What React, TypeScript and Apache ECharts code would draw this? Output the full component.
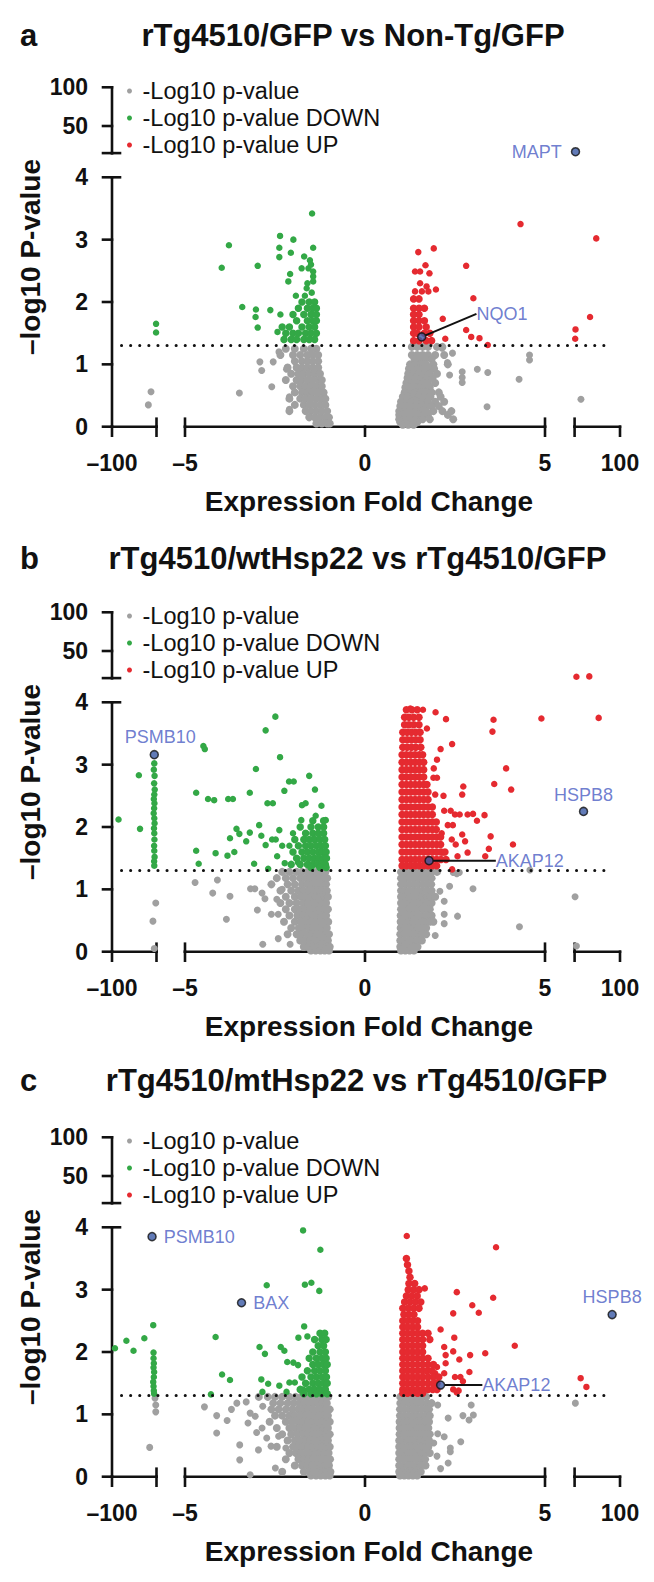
import React, { useEffect, useRef } from "react";
import * as echarts from "echarts";

// ---------------- text ----------------
const panelTitles = [
  "rTg4510/GFP vs Non-Tg/GFP",
  "rTg4510/wtHsp22 vs rTg4510/GFP",
  "rTg4510/mtHsp22 vs rTg4510/GFP",
];
const panelLetters = ["a", "b", "c"];
const legendNames = ["-Log10 p-value", "-Log10 p-value DOWN", "-Log10 p-value UP"];
const xTitle = "Expression Fold Change";
const yTitle = "\u2013log10 P-value";

// ---------------- axes (broken) ----------------
const xSegRanges = [[-100, -70], [-5, 5], [70, 100]];
const xSegTicks = [[-100, -70], [-5, 0, 5], [70, 100]];
const xSegLabels = [[-100], [-5, 0, 5], [100]];
const xSegCaps = [[-70], [-5, 5], [70]];
const yLowRange = [0, 4];
const yLowTicks = [0, 1, 2, 3, 4];
const yHighRange = [15, 100];
const yHighTicks = [15, 50, 100];
const yHighLabels = [50, 100];
const pThreshold = 1.3;

// ---------------- panel a data ----------------
const aGrayPts = [
  [-73.7, 0.56], [-75.5, 0.35],
  [-3.49, 0.54], [-2.92, 1.04], [-2.55, 1.04], [-2.87, 0.9], [-2.59, 0.64], [-2.39, 1.2], [-2.18, 0.92], [-2.1, 0.28], [-2.1, 0.48],
  [4.28, 0.76], [4.57, 1.15], [4.57, 1.07], [3.39, 0.32], [3.12, 0.92], [3.41, 0.87], [2.7, 0.88], [2.7, 0.79], [2.7, 0.71],
  [2.35, 0.83], [2.29, 1.03], [2.43, 1.18], [2.14, 1.26], [74.2, 0.44],
];
const aGrayRows = [
  [1.25, -2.2, -1.95, -1.7, -1.5, -1.35],
  [1.15, -2.35, -2.0, -1.8, -1.6, -1.45, -1.3],
  [1.05, -1.95, -1.75, -1.6, -1.45, -1.3],
  [0.95, -2.15, -1.9, -1.75, -1.6, -1.45, -1.3],
  [0.85, -2.05, -1.85, -1.7, -1.55, -1.4, -1.25],
  [0.75, -2.2, -1.9, -1.75, -1.6, -1.45, -1.3, -1.2],
  [0.65, -2.0, -1.8, -1.65, -1.5, -1.35, -1.2],
  [0.55, -1.95, -1.75, -1.6, -1.45, -1.3, -1.15],
  [0.45, -2.1, -1.8, -1.65, -1.5, -1.35, -1.2, -1.1],
  [0.35, -1.95, -1.7, -1.55, -1.4, -1.25, -1.1],
  [0.25, -2.1, -1.65, -1.5, -1.35, -1.2, -1.05],
  [0.15, -1.55, -1.4, -1.25, -1.1, -1.0],
  [0.05, -1.35, -1.2, -1.05, -0.98],
  [1.28, 1.3, 1.45, 1.6, 1.75, 2.0, 2.15],
  [1.15, 1.3, 1.45, 1.6, 1.75, 1.95, 2.2],
  [1.08, 1.38, 1.52, 1.68, 1.85],
  [1.0, 1.25, 1.4, 1.55, 1.7, 1.9, 2.3],
  [0.93, 1.22, 1.32, 1.48, 1.62, 1.78, 1.92],
  [0.85, 1.2, 1.35, 1.5, 1.65, 1.8, 2.0],
  [0.78, 1.18, 1.28, 1.42, 1.58, 1.72, 1.88],
  [0.7, 1.15, 1.3, 1.45, 1.6, 1.75, 1.95],
  [0.63, 1.12, 1.22, 1.38, 1.52, 1.68, 1.8],
  [0.55, 1.1, 1.25, 1.4, 1.55, 1.7, 1.85, 2.05],
  [0.48, 1.05, 1.2, 1.35, 1.5, 1.65, 1.82, 2.1],
  [0.4, 1.0, 1.15, 1.3, 1.45, 1.6, 1.75, 1.95, 2.2],
  [0.33, 0.98, 1.12, 1.28, 1.42, 1.58, 1.72, 1.85, 2.05],
  [0.25, 0.95, 1.1, 1.25, 1.4, 1.55, 1.7, 1.9, 2.15, 2.4],
  [0.19, 0.95, 1.05, 1.18, 1.32, 1.48, 1.65, 1.75, 2.3],
  [0.12, 0.95, 1.1, 1.25, 1.4, 1.6, 1.8, 2.45],
  [0.07, 0.98, 1.12, 1.28, 1.45],
  [0.03, 1.05, 1.2, 1.35],
];
const aGreenPts = [
  [-70.3, 1.65], [-70.3, 1.51],
  [-3.78, 2.91], [-3.98, 2.55], [-2.98, 2.58], [-3.41, 1.92], [-3.03, 1.88], [-3.04, 1.76], [-2.98, 1.59], [-2.63, 1.87],
  [-2.35, 1.8], [-2.43, 1.52], [-2.36, 3.06], [-1.99, 3.0], [-2.38, 2.87], [-2.38, 2.72], [-2.06, 2.79], [-1.44, 2.87],
  [-1.47, 3.42], [-1.69, 2.73], [-2.08, 2.45], [-2.13, 2.33], [-1.92, 2.1], [-1.76, 2.54], [-1.53, 2.67], [-1.44, 2.41],
  [-1.57, 2.54], [-1.44, 2.49], [-1.44, 2.33], [-1.48, 2.15], [-1.67, 2.1], [-1.6, 2.3], [-1.5, 2.6], [-1.62, 2.22],
];
const aGreenRows = [
  [2.0, -1.75, -1.55, -1.4],
  [1.9, -1.85, -1.6, -1.45, -1.35],
  [1.8, -2.0, -1.7, -1.5, -1.35],
  [1.7, -1.9, -1.6, -1.45, -1.35],
  [1.6, -2.3, -2.1, -1.75, -1.55, -1.4],
  [1.5, -2.2, -2.0, -1.85, -1.65, -1.5, -1.35],
  [1.4, -2.25, -2.05, -1.9, -1.7, -1.55, -1.4],
];
const aRedPts = [
  [1.48, 2.8], [1.91, 2.86], [1.68, 2.59], [1.39, 2.49], [1.53, 2.49], [1.79, 2.46], [1.53, 2.3], [1.71, 2.25], [1.39, 2.17],
  [1.58, 2.17], [1.76, 2.17], [1.97, 2.2], [2.16, 1.73], [2.81, 2.58], [3.01, 2.06], [2.81, 1.55], [2.95, 1.44], [3.18, 1.42],
  [3.41, 1.31], [2.23, 1.41], [4.32, 3.25], [84.3, 3.02], [80.2, 1.76], [70.6, 1.56], [70.4, 1.41],
];
const aRedRows = [
  [2.05, 1.35, 1.5],
  [1.9, 1.35, 1.5, 1.65],
  [1.8, 1.35, 1.5],
  [1.7, 1.35, 1.5, 1.65],
  [1.6, 1.35, 1.5, 1.7],
  [1.5, 1.35, 1.45, 1.65, 1.8],
  [1.38, 1.35, 1.5, 1.7, 1.85],
];
const aHighlights = [[70.6, 16.8, "MAPT"], [1.575, 1.44, "NQO1"]];

// ---------------- panel b data ----------------
const bGrayPts = [
  [-70.5, 0.78], [-72.4, 0.49], [-71.5, 0.05],
  [-4.72, 1.11], [-4.1, 1.15], [-4.23, 0.94], [-3.75, 0.89], [-3.85, 0.52], [-2.99, 0.67], [-3.18, 1.01], [-3.06, 1.01],
  [-2.86, 0.94], [-2.78, 0.85], [-2.84, 0.12], [-2.41, 0.21], [-2.08, 0.12], [-2.41, 0.6], [-2.45, 0.84], [-2.3, 1.0], [-2.6, 0.6],
  [4.29, 0.4], [4.58, 1.31], [3.0, 1.01], [2.57, 0.57], [2.45, 1.27], [2.55, 1.25], [2.62, 1.27], [2.2, 0.81], [2.2, 0.6],
  [2.2, 0.45], [1.95, 0.26], [2.35, 1.05], [2.08, 0.97], [70.3, 0.88], [71.2, 0.09],
];
const bGrayRows = [
  [1.28, -2.3, -2.1, -1.9, -1.75, -1.6, -1.47, -1.34, -1.21, -1.1],
  [1.18, -2.45, -2.2, -2.0, -1.8, -1.65, -1.52, -1.39, -1.26, -1.14, -1.05],
  [1.08, -2.6, -2.15, -1.95, -1.75, -1.6, -1.47, -1.34, -1.21, -1.08],
  [0.98, -2.35, -2.05, -1.85, -1.7, -1.56, -1.43, -1.3, -1.18, -1.06],
  [0.88, -2.2, -1.95, -1.78, -1.64, -1.5, -1.37, -1.24, -1.12, -1.03],
  [0.78, -2.35, -2.1, -1.9, -1.72, -1.58, -1.45, -1.32, -1.2, -1.08],
  [0.68, -2.2, -1.95, -1.8, -1.66, -1.52, -1.39, -1.26, -1.14, -1.03],
  [0.58, -2.1, -1.88, -1.72, -1.58, -1.45, -1.32, -1.2, -1.08],
  [0.48, -2.25, -1.95, -1.78, -1.64, -1.5, -1.37, -1.24, -1.12, -1.02],
  [0.38, -2.05, -1.84, -1.7, -1.56, -1.43, -1.3, -1.18, -1.06],
  [0.28, -2.15, -1.9, -1.75, -1.6, -1.47, -1.34, -1.22, -1.1, -1.0],
  [0.18, -1.8, -1.65, -1.52, -1.39, -1.26, -1.14, -1.03],
  [0.08, -1.7, -1.57, -1.44, -1.31, -1.18, -1.06, -0.98],
  [0.02, -1.5, -1.37, -1.24, -1.12, -1.0],
  [1.28, 1.0, 1.12, 1.24, 1.36, 1.48, 1.6, 1.72, 1.85, 2.0],
  [1.18, 1.0, 1.12, 1.24, 1.36, 1.48, 1.6, 1.72, 1.85],
  [1.08, 1.0, 1.12, 1.24, 1.36, 1.48, 1.6, 1.72, 1.84],
  [0.98, 1.0, 1.12, 1.24, 1.36, 1.48, 1.6, 1.72, 1.85],
  [0.88, 1.0, 1.12, 1.24, 1.36, 1.48, 1.6, 1.72, 1.82, 1.95],
  [0.78, 1.0, 1.12, 1.24, 1.36, 1.48, 1.6, 1.72, 1.85],
  [0.68, 1.0, 1.12, 1.24, 1.36, 1.48, 1.6, 1.72, 1.8],
  [0.58, 0.99, 1.11, 1.23, 1.35, 1.47, 1.59, 1.71, 1.85],
  [0.48, 0.99, 1.11, 1.23, 1.35, 1.47, 1.59, 1.71, 1.8, 1.9],
  [0.38, 0.99, 1.11, 1.23, 1.35, 1.47, 1.59, 1.7],
  [0.28, 0.98, 1.1, 1.22, 1.34, 1.46, 1.58, 1.7],
  [0.18, 0.98, 1.1, 1.22, 1.34, 1.46, 1.58],
  [0.08, 0.98, 1.1, 1.22, 1.34, 1.46],
  [0.02, 1.0, 1.12, 1.24, 1.36],
];
const bGreenPts = [
  [-81.9, 2.83], [-95.6, 2.12], [-81.1, 1.97],
  [-71.5, 3.02], [-71.8, 2.92], [-71.3, 2.82], [-71.6, 2.7], [-71.2, 2.6], [-71.5, 2.52], [-71.8, 2.45], [-71.4, 2.38],
  [-71.6, 2.3], [-71.9, 2.22], [-71.5, 2.14], [-71.3, 2.06], [-71.7, 1.98], [-71.5, 1.9], [-71.4, 1.8], [-71.6, 1.7],
  [-71.5, 1.62], [-71.3, 1.52], [-71.6, 1.45], [-71.5, 1.38],
  [-4.49, 3.3], [-4.45, 3.25], [-2.49, 3.77], [-2.76, 3.55], [-2.36, 3.12], [-3.03, 2.93], [-4.69, 2.55], [-4.36, 2.45],
  [-4.19, 2.43], [-3.8, 2.45], [-3.67, 2.45], [-3.2, 2.55], [-2.71, 2.38], [-2.56, 2.38], [-2.11, 2.73], [-1.98, 2.73],
  [-1.55, 2.82], [-2.24, 2.58], [-1.39, 2.6], [-1.75, 2.35], [-1.65, 2.38], [-1.21, 2.34], [-1.37, 2.18], [-1.09, 2.11],
  [-3.57, 1.97], [-2.94, 2.03], [-3.3, 1.77], [-3.75, 1.82], [-3.49, 1.89], [-3.2, 1.91], [-2.88, 1.86], [-2.76, 1.71],
  [-2.58, 1.8], [-2.48, 1.8], [-2.38, 1.95], [-1.77, 2.11], [-2.0, 1.9], [-4.69, 1.62], [-4.62, 1.41], [-4.15, 1.58],
  [-3.82, 1.54], [-3.63, 1.6], [-3.08, 1.41], [-2.69, 1.33], [-2.44, 1.53], [-2.23, 1.42], [-1.86, 1.43], [-2.1, 1.7], [-2.3, 1.7],
];
const bGreenRows = [
  [2.1, -1.45, -1.15],
  [2.0, -1.8, -1.5, -1.3, -1.15],
  [1.9, -1.65, -1.45, -1.3, -1.15],
  [1.8, -1.95, -1.7, -1.55, -1.4, -1.25, -1.12],
  [1.7, -1.85, -1.65, -1.5, -1.35, -1.22, -1.1],
  [1.6, -2.0, -1.75, -1.6, -1.45, -1.3, -1.18, -1.08],
  [1.5, -1.9, -1.7, -1.55, -1.4, -1.28, -1.15, -1.07],
  [1.4, -2.05, -1.8, -1.6, -1.45, -1.32, -1.2, -1.1],
  [1.35, -1.5, -1.25, -1.08],
];
const bRedPts = [
  [1.26, 3.9], [1.61, 3.88], [1.96, 3.84], [2.25, 3.73], [2.42, 3.33], [2.1, 3.25], [2.0, 3.08], [1.91, 2.94], [2.18, 2.5],
  [2.73, 2.65], [2.7, 2.52], [2.5, 2.2], [2.63, 2.2], [2.85, 2.2], [3.0, 2.21], [3.32, 2.19], [3.11, 2.1], [2.3, 2.03],
  [2.44, 2.03], [2.7, 1.88], [2.78, 1.77], [2.52, 1.72], [2.85, 1.59], [3.49, 1.85], [3.44, 1.65], [3.34, 1.53], [4.11, 1.72],
  [3.57, 3.72], [3.54, 3.53], [3.92, 2.94], [3.59, 2.69], [4.06, 2.6], [4.9, 3.74], [2.42, 1.32], [2.41, 1.8], [2.13, 1.9],
  [2.57, 1.53], [2.16, 1.59], [1.72, 3.58], [1.9, 2.79], [2.0, 2.79], [1.95, 2.52], [2.2, 2.26], [2.38, 2.26],
  [85.9, 3.75], [71.2, 16.8], [79.7, 17.2],
];
const bRedRows = [
  [3.88, 1.15, 1.3, 1.45],
  [3.76, 1.1, 1.22, 1.35, 1.5],
  [3.64, 1.1, 1.22, 1.35, 1.5],
  [3.52, 1.05, 1.17, 1.29, 1.41, 1.53],
  [3.4, 1.05, 1.17, 1.29, 1.41, 1.53],
  [3.28, 1.05, 1.17, 1.29, 1.41, 1.55],
  [3.16, 1.03, 1.15, 1.27, 1.39, 1.51, 1.6],
  [3.04, 1.03, 1.15, 1.27, 1.39, 1.51, 1.63],
  [2.92, 1.03, 1.15, 1.27, 1.39, 1.51, 1.63],
  [2.8, 1.03, 1.15, 1.27, 1.39, 1.51, 1.63],
  [2.68, 1.03, 1.15, 1.27, 1.39, 1.51, 1.63, 1.72],
  [2.56, 1.03, 1.15, 1.27, 1.39, 1.51, 1.63, 1.75],
  [2.44, 1.03, 1.15, 1.27, 1.39, 1.51, 1.63, 1.75],
  [2.32, 1.03, 1.15, 1.27, 1.39, 1.51, 1.63, 1.75, 1.87],
  [2.2, 1.03, 1.15, 1.27, 1.39, 1.51, 1.63, 1.75, 1.87],
  [2.08, 1.03, 1.15, 1.27, 1.39, 1.51, 1.63, 1.75, 1.87, 1.98],
  [1.96, 1.03, 1.15, 1.27, 1.39, 1.51, 1.63, 1.75, 1.87, 1.98],
  [1.84, 1.03, 1.15, 1.27, 1.39, 1.51, 1.63, 1.75, 1.87, 1.99, 2.1],
  [1.72, 1.03, 1.15, 1.27, 1.39, 1.51, 1.63, 1.75, 1.87, 1.99, 2.1],
  [1.6, 1.03, 1.15, 1.27, 1.39, 1.51, 1.63, 1.75, 1.87, 1.99, 2.11, 2.22],
  [1.48, 1.03, 1.15, 1.27, 1.39, 1.51, 1.63, 1.75, 1.87, 1.99, 2.11, 2.25],
  [1.38, 1.03, 1.15, 1.27, 1.39, 1.51, 1.63, 1.75, 1.87, 1.99],
];
const bHighlights = [[-71.5, 3.16, "PSMB10"], [75.9, 2.25, "HSPB8"], [1.78, 1.46, "AKAP12"]];

// ---------------- panel c data ----------------
const cGrayPts = [
  [-71, 1.26], [-70.5, 1.15], [-70.5, 1.04], [-74.6, 0.47],
  [-4.46, 1.12], [-4.12, 0.98], [-4.12, 0.7], [-3.48, 0.51], [-3.48, 0.27], [-3.19, 0.03], [-2.49, 0.14], [-2.96, 0.43],
  [-2.86, 0.78], [-3.19, 1.02], [-3.3, 1.2], [-3.83, 0.9], [-3.71, 1.08], [-3.56, 1.18], [-3.25, 0.86], [-3.01, 0.71],
  [-2.73, 0.62], [-2.61, 0.49], [-2.2, 0.46], [-2.4, 0.65], [-3.05, 0.97], [-2.84, 1.13],
  [2.02, 1.15], [2.31, 0.94], [2.72, 0.98], [2.89, 0.91], [3.01, 0.99], [2.95, 1.15], [2.66, 0.56], [2.37, 0.46], [2.2, 0.64],
  [2.02, 0.69], [2.31, 0.22], [2.37, 0.4], [1.91, 0.54], [2.0, 0.33], [2.1, 0.13], [70.5, 1.18],
];
const cGrayRows = [
  [1.28, -2.95, -2.7, -2.5, -2.3, -2.1, -1.93, -1.78, -1.64, -1.5, -1.37, -1.24, -1.12, -1.02],
  [1.18, -2.55, -2.35, -2.15, -1.98, -1.82, -1.68, -1.55, -1.42, -1.3, -1.18, -1.06],
  [1.08, -2.6, -2.4, -2.2, -2.02, -1.86, -1.72, -1.58, -1.45, -1.32, -1.2, -1.08, -0.98],
  [0.98, -2.5, -2.3, -2.1, -1.95, -1.8, -1.66, -1.52, -1.39, -1.26, -1.14, -1.03],
  [0.88, -2.65, -2.2, -2.02, -1.86, -1.72, -1.58, -1.45, -1.32, -1.2, -1.08, -0.98],
  [0.78, -2.45, -2.1, -1.95, -1.8, -1.66, -1.52, -1.39, -1.26, -1.14, -1.03],
  [0.68, -2.3, -2.05, -1.88, -1.72, -1.58, -1.45, -1.32, -1.2, -1.08, -0.98],
  [0.58, -2.15, -1.95, -1.8, -1.66, -1.52, -1.39, -1.26, -1.14, -1.03],
  [0.48, -2.45, -2.0, -1.86, -1.72, -1.58, -1.45, -1.32, -1.2, -1.08, -0.98],
  [0.38, -2.1, -1.92, -1.78, -1.64, -1.5, -1.37, -1.24, -1.12, -1.01],
  [0.28, -2.2, -1.85, -1.7, -1.56, -1.43, -1.3, -1.18, -1.06, -0.97],
  [0.18, -1.95, -1.75, -1.6, -1.47, -1.34, -1.22, -1.1, -1.0],
  [0.08, -2.3, -1.7, -1.55, -1.42, -1.29, -1.16, -1.04, -0.96],
  [0.02, -1.5, -1.36, -1.23, -1.1, -0.98],
  [1.28, 0.98, 1.1, 1.22, 1.34, 1.46, 1.58, 1.7],
  [1.18, 0.98, 1.1, 1.22, 1.34, 1.46, 1.58, 1.72, 1.85],
  [1.08, 0.97, 1.09, 1.21, 1.33, 1.45, 1.57, 1.69, 1.78],
  [0.98, 0.97, 1.09, 1.21, 1.33, 1.45, 1.57, 1.69, 1.8],
  [0.88, 0.96, 1.08, 1.2, 1.32, 1.44, 1.56, 1.68, 1.78],
  [0.78, 0.96, 1.08, 1.2, 1.32, 1.44, 1.56, 1.68, 1.76],
  [0.68, 0.96, 1.08, 1.2, 1.32, 1.44, 1.56, 1.68, 1.8],
  [0.58, 0.95, 1.07, 1.19, 1.31, 1.43, 1.55, 1.67, 1.78],
  [0.48, 0.95, 1.07, 1.19, 1.31, 1.43, 1.55, 1.67, 1.76],
  [0.38, 0.95, 1.07, 1.19, 1.31, 1.43, 1.55, 1.67, 1.8],
  [0.28, 0.95, 1.07, 1.19, 1.31, 1.43, 1.55, 1.67],
  [0.18, 0.95, 1.07, 1.19, 1.31, 1.43, 1.55, 1.68],
  [0.08, 0.95, 1.07, 1.19, 1.31, 1.43, 1.55],
  [0.02, 0.97, 1.09, 1.21, 1.33, 1.45],
];
const cGreenPts = [
  [-72.2, 2.43], [-98, 2.06], [-90.3, 2.18], [-85.5, 2.02], [-78.2, 2.22],
  [-72, 1.99], [-72, 1.9], [-71.8, 1.82], [-72, 1.75], [-71.6, 1.68], [-71.8, 1.6], [-72.2, 1.52], [-72, 1.45], [-71.8, 1.38], [-71.6, 1.33],
  [-1.72, 3.95], [-1.24, 3.64], [-2.73, 3.07], [-1.67, 3.08], [-1.49, 3.11], [-1.27, 2.98], [-4.15, 2.24], [-3.97, 1.64],
  [-3.75, 1.55], [-4.28, 1.32], [-2.93, 2.08], [-2.78, 1.97], [-2.34, 2.08], [-2.24, 2.02], [-2.88, 1.56], [-2.69, 1.49],
  [-2.38, 1.46], [-2.18, 1.36], [-2.85, 1.36], [-2.16, 1.84], [-1.99, 1.83], [-1.86, 1.79], [-2.1, 1.51], [-1.95, 1.51],
  [-1.69, 2.41], [-1.6, 2.25], [-1.85, 2.23], [-1.72, 1.4],
];
const cGreenRows = [
  [2.3, -1.25, -1.12],
  [2.2, -1.4, -1.2, -1.08],
  [2.1, -1.3, -1.15],
  [2.0, -1.45, -1.25, -1.1],
  [1.9, -1.55, -1.35, -1.2, -1.08],
  [1.8, -1.45, -1.3, -1.15, -1.05],
  [1.7, -1.6, -1.4, -1.25, -1.1],
  [1.6, -1.75, -1.5, -1.35, -1.2, -1.07],
  [1.5, -1.65, -1.45, -1.3, -1.15, -1.05],
  [1.4, -1.8, -1.55, -1.4, -1.25, -1.1],
  [1.33, -1.7, -1.5, -1.35, -1.2, -1.05],
];
const cRedPts = [
  [1.16, 3.86], [3.64, 3.68], [1.66, 3.02], [2.55, 2.96], [3.56, 2.87], [2.98, 2.75], [3.16, 2.63], [2.45, 2.62], [4.16, 2.1],
  [2.1, 2.36], [2.48, 2.23], [2.2, 2.08], [2.45, 2.01], [2.92, 1.95], [3.34, 1.98], [2.24, 1.95], [2.24, 1.82], [2.62, 1.88],
  [2.9, 1.68], [2.5, 1.6], [2.65, 1.6], [2.72, 1.53], [2.0, 1.76], [1.95, 1.66], [2.2, 1.66], [2.55, 1.35], [2.45, 1.4],
  [2.6, 1.38], [74, 1.58], [77.8, 1.44],
];
const cRedRows = [
  [3.5, 1.15], [3.4, 1.18], [3.3, 1.22], [3.2, 1.25],
  [3.1, 1.22, 1.38],
  [3.0, 1.2, 1.35, 1.5],
  [2.9, 1.15, 1.3, 1.45],
  [2.8, 1.1, 1.25, 1.4, 1.55],
  [2.7, 1.05, 1.2, 1.35, 1.5],
  [2.6, 1.08, 1.22, 1.36],
  [2.5, 1.05, 1.18, 1.32, 1.46],
  [2.4, 1.05, 1.18, 1.32, 1.46],
  [2.3, 1.05, 1.18, 1.32, 1.46, 1.6, 1.75],
  [2.2, 1.05, 1.18, 1.32, 1.46, 1.6, 1.8],
  [2.1, 1.05, 1.18, 1.32, 1.46, 1.6],
  [2.0, 1.05, 1.18, 1.32, 1.46, 1.6],
  [1.9, 1.05, 1.18, 1.32, 1.46, 1.6, 1.75],
  [1.8, 1.05, 1.18, 1.32, 1.46, 1.6, 1.75, 1.9],
  [1.7, 1.05, 1.18, 1.32, 1.46, 1.6, 1.72, 1.85],
  [1.6, 1.05, 1.18, 1.32, 1.46, 1.6, 1.75, 1.9, 2.05],
  [1.5, 1.05, 1.18, 1.32, 1.46, 1.6, 1.75, 1.9, 2.0],
  [1.4, 1.05, 1.18, 1.32, 1.46, 1.6, 1.75, 1.88, 2.0],
  [1.34, 1.05, 1.18, 1.32, 1.46, 1.6],
];
const cHighlights = [[-73, 3.85, "PSMB10"], [-3.43, 2.79, "BAX"], [94.8, 2.6, "HSPB8"], [2.1, 1.47, "AKAP12"]];

// ---------------- styling / layout (not data) ----------------
const FONT = "Liberation Sans, Arial, Helvetica, sans-serif";
const INK = "#111111";
const GRAY = "#a0a0a0";
const GREEN = "#33a846";
const RED = "#e52a30";
const HL_FILL = "#3b5aa5";
const HL_TEXT = "#4a5dc3";
const PANEL_OFFSETS = [0, 525, 1050];
const SEG_LEFT = [112, 185, 574.6];
const SEG_WIDTH = [44.5, 360, 45.4];
const LOW_TOP = 177.3;
const LOW_H = 249.4;
const HIGH_TOP = 87.3;
const HIGH_H = 65.8;
const TITLE_POS = [[353, 35], [357.5, 558], [356.5, 1080]];
const AXIS_W = 2.6;
const TICK_OUT = 9;
const TICK_CAP = 8;
const hlLabelCfg: any[][] = [
  [{ position: "left", distance: 9 }, { position: "right", distance: 5, dx: 45, dy: -23, line: true }],
  [{ position: "top", distance: 4, dx: 6 }, { position: "top", distance: 3 }, { position: "right", distance: 5, dx: 57, line: true }],
  [{ position: "right", distance: 7 }, { position: "right", distance: 7 }, { position: "top", distance: 4 }, { position: "right", distance: 5, dx: 32, line: true }],
];

function rowsToPoints(rows: number[][]): number[][] {
  const out: number[][] = [];
  rows.forEach((r) => {
    for (let i = 1; i < r.length; i++) out.push([r[i], r[0]]);
  });
  return out;
}

const panels = [
  { gray: [aGrayPts, rowsToPoints(aGrayRows)], green: [aGreenPts, rowsToPoints(aGreenRows)], red: [aRedPts, rowsToPoints(aRedRows)], hl: aHighlights },
  { gray: [bGrayPts, rowsToPoints(bGrayRows)], green: [bGreenPts, rowsToPoints(bGreenRows)], red: [bRedPts, rowsToPoints(bRedRows)], hl: bHighlights },
  { gray: [cGrayPts, rowsToPoints(cGrayRows)], green: [cGreenPts, rowsToPoints(cGreenRows)], red: [cRedPts, rowsToPoints(cRedRows)], hl: cHighlights },
];

function segOf(x: number) {
  return x < xSegRanges[0][1] + 1 ? 0 : x > xSegRanges[2][0] - 1 ? 2 : 1;
}

function buildOption() {
  const grid: any[] = [];
  const xAxis: any[] = [];
  const yAxis: any[] = [];
  const series: any[] = [];
  const legend: any[] = [];
  const gridMap: number[][][] = [];
  const fmt = (v: number) => (v < 0 ? "\u2013" + Math.abs(v) : String(v));
  const tickFont = { fontSize: 23, fontWeight: "bold", color: INK, fontFamily: FONT };

  PANEL_OFFSETS.forEach((o, p) => {
    const idx: any[][] = [[], []];
    const gm: number[][] = [[], []];
    for (let u = 0; u < 2; u++) {
      for (let s = 0; s < 3; s++) {
        const gi = grid.length;
        gm[u][s] = gi;
        grid.push({ left: SEG_LEFT[s], width: SEG_WIDTH[s], top: (u === 0 ? LOW_TOP : HIGH_TOP) + o, height: u === 0 ? LOW_H : HIGH_H });
        const xi = xAxis.length;
        if (u === 0) {
          xAxis.push({
            type: "value", gridIndex: gi, position: "bottom", min: xSegRanges[s][0], max: xSegRanges[s][1],
            axisLine: { show: false, onZero: false }, axisTick: { show: false },
            axisLabel: { show: true, customValues: xSegLabels[s], formatter: fmt, margin: 25, ...tickFont },
            splitLine: { show: false },
          });
        } else {
          xAxis.push({ type: "value", gridIndex: gi, position: "bottom", min: xSegRanges[s][0], max: xSegRanges[s][1], show: false, splitLine: { show: false } });
        }
        const yi = yAxis.length;
        const yr = u === 0 ? yLowRange : yHighRange;
        if (s === 0) {
          yAxis.push({
            type: "value", gridIndex: gi, position: "left", min: yr[0], max: yr[1],
            axisLine: { show: false, onZero: false }, axisTick: { show: false },
            axisLabel: { show: true, customValues: u === 0 ? yLowTicks : yHighLabels, margin: 24, ...tickFont },
            splitLine: { show: false },
          });
        } else {
          yAxis.push({ type: "value", gridIndex: gi, position: "left", min: yr[0], max: yr[1], show: false, splitLine: { show: false } });
        }
        idx[u][s] = { x: xi, y: yi };
      }
    }
    gridMap.push(gm);

    // threshold overlay
    const og = grid.length;
    grid.push({ left: 121.5, width: 490.5, top: LOW_TOP + o, height: LOW_H });
    const oxi = xAxis.length;
    xAxis.push({ type: "value", gridIndex: og, min: 0, max: 1, show: false, splitLine: { show: false } });
    const oyi = yAxis.length;
    yAxis.push({ type: "value", gridIndex: og, min: yLowRange[0], max: yLowRange[1], show: false, splitLine: { show: false } });
    series.push({
      type: "scatter", name: "threshold", xAxisIndex: oxi, yAxisIndex: oyi, data: [], silent: true, z: 1,
      markLine: {
        silent: true, symbol: ["none", "none"], label: { show: false }, animation: false,
        lineStyle: { color: INK, width: 3, type: [0.1, 9], cap: "round" },
        data: [{ yAxis: pThreshold }],
      },
    });

    const panel: any = panels[p];
    const cats = [
      { sets: panel.gray, name: legendNames[0], color: GRAY, sizes: [7, 8], z: 2 },
      { sets: panel.green, name: legendNames[1], color: GREEN, sizes: [6.5, 7.5], z: 3 },
      { sets: panel.red, name: legendNames[2], color: RED, sizes: [6.5, 7.5], z: 3 },
    ];
    cats.forEach((cat) => {
      cat.sets.forEach((pts: number[][], k: number) => {
        const buckets: number[][][][] = [[[], [], []], [[], [], []]];
        pts.forEach((pt) => buckets[pt[1] > yLowRange[1] + 1 ? 1 : 0][segOf(pt[0])].push(pt));
        for (let u = 0; u < 2; u++) {
          for (let s = 0; s < 3; s++) {
            if (!buckets[u][s].length) continue;
            series.push({
              type: "scatter", name: cat.name, xAxisIndex: idx[u][s].x, yAxisIndex: idx[u][s].y,
              data: buckets[u][s], symbolSize: cat.sizes[k], itemStyle: { color: cat.color, opacity: 1 },
              z: cat.z, silent: true, clip: false,
            });
          }
        }
      });
    });

    panel.hl.forEach((h: any, k: number) => {
      const cfg = hlLabelCfg[p][k];
      const u = h[1] > yLowRange[1] + 1 ? 1 : 0;
      const s = segOf(h[0]);
      const ser: any = {
        type: "scatter", name: "highlight", xAxisIndex: idx[u][s].x, yAxisIndex: idx[u][s].y,
        data: [[h[0], h[1]]], symbolSize: 8, z: 6, silent: true, clip: false,
        itemStyle: { color: HL_FILL, borderColor: INK, borderWidth: 1.5 },
        label: { show: true, formatter: h[2], position: cfg.position, distance: cfg.distance, fontSize: 18, color: HL_TEXT, fontFamily: FONT },
      };
      if (cfg.dx || cfg.dy) ser.labelLayout = { dx: cfg.dx || 0, dy: cfg.dy || 0 };
      if (cfg.line) ser.labelLine = { show: true, smooth: false, length2: 0, lineStyle: { color: INK, width: 2 } };
      series.push(ser);
    });

    legend.push({
      orient: "vertical", left: 127, top: 77.5 + o, padding: 0, itemGap: 0, itemWidth: 8, itemHeight: 5,
      icon: "circle", selectedMode: false, data: legendNames,
      textStyle: { fontSize: 23.5, color: INK, fontFamily: FONT, lineHeight: 27, padding: [0, 0, 0, 4] },
    });
  });

  return {
    option: { animation: false, backgroundColor: "#ffffff", grid, xAxis, yAxis, series, legend },
    gridMap,
  };
}

function buildGraphics(chart: any, gridMap: number[][][]) {
  const g: any[] = [];
  const ln = (x1: number, y1: number, x2: number, y2: number) => ({
    type: "line", silent: true, z: 1,
    shape: { x1, y1, x2, y2 },
    style: { stroke: INK, lineWidth: AXIS_W, lineCap: "square" },
  });
  const pt = (gi: number, x: number, y: number) => chart.convertToPixel({ gridIndex: gi }, [x, y]);

  PANEL_OFFSETS.forEach((o, p) => {
    const gm = gridMap[p];
    const gLL = gm[0][0];
    const yb = pt(gLL, xSegRanges[0][0], yLowRange[0]);
    const yt = pt(gLL, xSegRanges[0][0], yLowRange[1]);
    g.push(ln(yb[0], yb[1], yt[0], yt[1]));
    yLowTicks.forEach((v) => {
      const q = pt(gLL, xSegRanges[0][0], v);
      g.push(ln(q[0] - TICK_OUT, q[1], q[0], q[1]));
    });
    g.push(ln(yt[0], yt[1], yt[0] + TICK_CAP, yt[1]));
    const gUL = gm[1][0];
    const ub = pt(gUL, xSegRanges[0][0], yHighRange[0]);
    const ut = pt(gUL, xSegRanges[0][0], yHighRange[1]);
    g.push(ln(ub[0], ub[1], ut[0], ut[1]));
    yHighTicks.forEach((v) => {
      const q = pt(gUL, xSegRanges[0][0], v);
      g.push(ln(q[0] - TICK_OUT, q[1], q[0], q[1]));
    });
    g.push(ln(ub[0], ub[1], ub[0] + TICK_CAP, ub[1]));
    for (let s = 0; s < 3; s++) {
      const gi = gm[0][s];
      const a = pt(gi, xSegRanges[s][0], yLowRange[0]);
      const b = pt(gi, xSegRanges[s][1], yLowRange[0]);
      g.push(ln(a[0], a[1], b[0], b[1]));
      xSegTicks[s].forEach((v) => {
        const q = pt(gi, v, yLowRange[0]);
        g.push(ln(q[0], q[1], q[0], q[1] + TICK_OUT));
      });
      xSegCaps[s].forEach((v) => {
        const q = pt(gi, v, yLowRange[0]);
        g.push(ln(q[0], q[1], q[0], q[1] - TICK_CAP));
      });
    }

    g.push({
      type: "text", x: 20, y: TITLE_POS[p][1], silent: true,
      style: { text: panelLetters[p], fontSize: 31, fontWeight: "bold", fontFamily: FONT, fill: INK, align: "left", verticalAlign: "middle" },
    });
    g.push({
      type: "text", x: TITLE_POS[p][0], y: TITLE_POS[p][1], silent: true,
      style: { text: panelTitles[p], fontSize: 31, fontWeight: "bold", fontFamily: FONT, fill: INK, align: "center", verticalAlign: "middle" },
    });
    g.push({
      type: "text", x: 369, y: 501 + o, silent: true,
      style: { text: xTitle, fontSize: 28, fontWeight: "bold", fontFamily: FONT, fill: INK, align: "center", verticalAlign: "middle" },
    });
    g.push({
      type: "text", x: 30, y: 257 + o, rotation: Math.PI / 2, silent: true,
      style: { text: yTitle, fontSize: 28, fontWeight: "bold", fontFamily: FONT, fill: INK, align: "center", verticalAlign: "middle" },
    });
  });
  return g;
}

export default function App() {
  const ref = useRef<HTMLDivElement>(null);
  useEffect(() => {
    if (!ref.current) return;
    document.body.style.margin = "0";
    const chart = echarts.init(ref.current, undefined, { renderer: "svg" });
    const { option, gridMap } = buildOption();
    chart.setOption(option as any);
    chart.setOption({ graphic: buildGraphics(chart, gridMap) } as any);
    return () => chart.dispose();
  }, []);
  return <div ref={ref} style={{ position: "absolute", left: 0, top: 0, width: 654, height: 1582, background: "#fff" }} />;
}
